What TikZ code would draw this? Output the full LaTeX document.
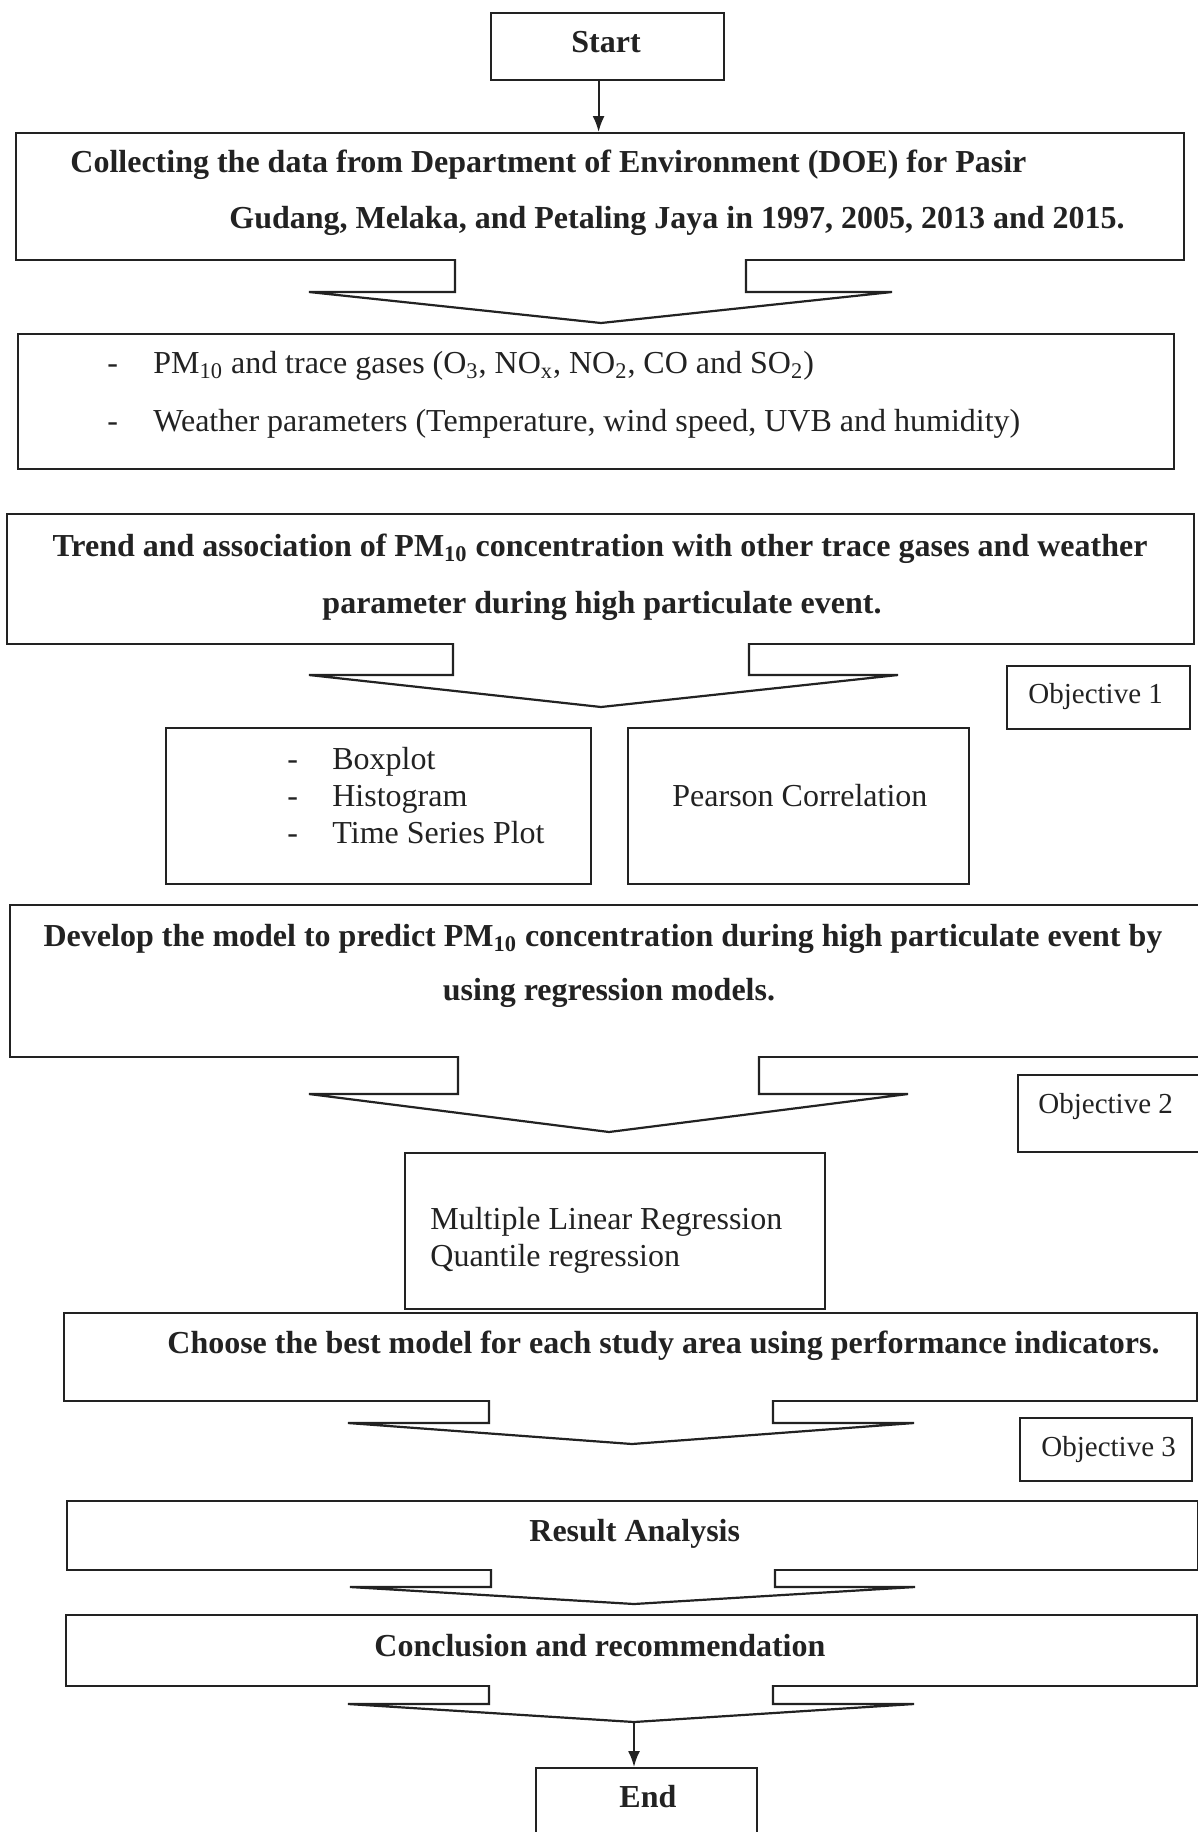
\documentclass[tikz,border=0pt]{standalone}
\usepackage{fontspec}
\setmainfont{Liberation Serif}
\usetikzlibrary{arrows.meta}
\definecolor{ink}{HTML}{222222}
\tikzset{
  box/.style={draw=ink, line width=1.1pt, inner sep=0pt, anchor=north west},
  thinbox/.style={draw=ink, line width=0.8pt, inner sep=0pt, anchor=north west},
  bold/.style={inner sep=0pt, text=ink, font=\fontsize{16}{19}\selectfont\bfseries},
  plain/.style={inner sep=0pt, text=ink, font=\fontsize{16}{19}\selectfont},
  objtext/.style={inner sep=0pt, text=ink, font=\fontsize{14.5}{17}\selectfont},
  flow/.style={draw=ink, line width=1.1pt},
}
\begin{document}
\begin{tikzpicture}[x=0.5pt, y=-0.5pt]
  \useasboundingbox (0,0) rectangle (1198,1832);
  % boxes
  \node [box, minimum width=116.5pt, minimum height=33.5pt] (start) at (490,12) {};
  \node [box, minimum width=584pt, minimum height=63.5pt] (collect) at (15,132) {};
  \node [box, minimum width=578pt, minimum height=67.5pt] (data) at (17,333) {};
  \node [box, minimum width=593.5pt, minimum height=65pt] (trend) at (6,513) {};
  \node [thinbox, minimum width=91.5pt, minimum height=31.5pt] (obj1) at (1006,665) {};
  \node [box, minimum width=212.5pt, minimum height=78pt] (stats) at (165,727) {};
  \node [box, minimum width=170.5pt, minimum height=78pt] (pearson) at (627,727) {};
  \node [box, minimum width=598pt, minimum height=76pt] (develop) at (9,904) {};
  \node [thinbox, minimum width=96.5pt, minimum height=38.5pt] (obj2) at (1017,1074) {};
  \node [box, minimum width=210pt, minimum height=78pt] (models) at (404,1152) {};
  \node [box, minimum width=566.5pt, minimum height=44pt] (choose) at (63,1312) {};
  \node [thinbox, minimum width=86pt, minimum height=31.5pt] (obj3) at (1019,1417) {};
  \node [box, minimum width=565.5pt, minimum height=34.5pt] (result) at (66,1500) {};
  \node [box, minimum width=565.5pt, minimum height=35.5pt] (concl) at (65,1614) {};
  \node [box, minimum width=110.5pt, minimum height=40pt] (end) at (535,1767) {};

  % block arrows between the steps
  \foreach \t/\sl/\sr/\s/\hl/\hr/\tx/\ty [count=\i] in {
      259/455/746/292/309/892/601/323,
      643/453/749/675/309/898/601/707,
      1056/458/759/1094/309/908/609/1132,
      1400/489/773/1423/348/914/632/1444,
      1569/491/775/1587/350/915/634/1604,
      1685/489/773/1704/348/914/634/1722}{
    \fill[white] (\sl,\t-3) -- (\sl,\s) -- (\hl,\s) -- (\tx,\ty) -- (\hr,\s) -- (\sr,\s) -- (\sr,\t-3) -- cycle;
    \draw[flow] (\sl,\t) -- (\sl,\s) -- (\hl,\s) -- (\tx,\ty) -- (\hr,\s) -- (\sr,\s) -- (\sr,\t);
    \coordinate (tip\i) at (\tx,\ty);
  }
  \draw[flow, line width=1pt, -{Latex[length=8pt, width=6pt]}] ([xshift=-4.5pt]start.south) -- ([xshift=-4.5pt]start.south |- collect.north);
  \draw[flow, line width=1pt, -{Latex[length=8pt, width=6pt]}] (tip6) -- (tip6 |- end.north);

  % texts
  \node [bold, anchor=base] (startlbl) at (606,52) {Start};
  \node [bold, anchor=base west] (collect1) at (70,172) {Collecting the data from Department of Environment (DOE) for Pasir};
  \node [bold, anchor=base west] (collect2) at (229,228) {Gudang, Melaka, and Petaling Jaya in 1997, 2005, 2013 and 2015.};
  \node [plain, anchor=base west] (data1) at (107,373) {\makebox[23pt][l]{-}PM\textsubscript{10} and trace gases (O\textsubscript{3}, NO\textsubscript{x}, NO\textsubscript{2}, CO and SO\textsubscript{2})};
  \node [plain, anchor=base west] (data2) at (107,431) {\makebox[23pt][l]{-}Weather parameters (Temperature, wind speed, UVB and humidity)};
  \node [bold, anchor=base] (trend1) at (600,556) {Trend and association of PM\textsubscript{10} concentration with other trace gases and weather};
  \node [bold, anchor=base] (trend2) at (602,613) {parameter during high particulate event.};
  \node [objtext, anchor=base west] (obj1lbl) at (1028,703) {Objective 1};
  \node [plain, anchor=base west] (stats1) at (287,769) {\makebox[22.5pt][l]{-}Boxplot};
  \node [plain, anchor=base west] (stats2) at (287,806) {\makebox[22.5pt][l]{-}Histogram};
  \node [plain, anchor=base west] (stats3) at (287,843) {\makebox[22.5pt][l]{-}Time Series Plot};
  \node [plain, anchor=base west] (pearsonlbl) at (672,806) {Pearson Correlation};
  \node [bold, anchor=base] (develop1) at (603,946) {Develop the model to predict PM\textsubscript{10} concentration during high particulate event by};
  \node [bold, anchor=base] (develop2) at (609,1000) {using regression models.};
  \node [objtext, anchor=base west] (obj2lbl) at (1038,1113) {Objective 2};
  \node [plain, anchor=base west] (models1) at (430,1229) {Multiple Linear Regression};
  \node [plain, anchor=base west] (models2) at (430,1266) {Quantile regression};
  \node [bold, anchor=base west] (chooselbl) at (167,1353) {Choose the best model for each study area using performance indicators.};
  \node [objtext, anchor=base west] (obj3lbl) at (1041,1456) {Objective 3};
  \node [bold, anchor=base west] (resultlbl) at (529,1541) {Result Analysis};
  \node [bold, anchor=base west] (concllbl) at (374,1656) {Conclusion and recommendation};
  \node [bold, anchor=base west] (endlbl) at (619,1807) {End};
\end{tikzpicture}
\end{document}
